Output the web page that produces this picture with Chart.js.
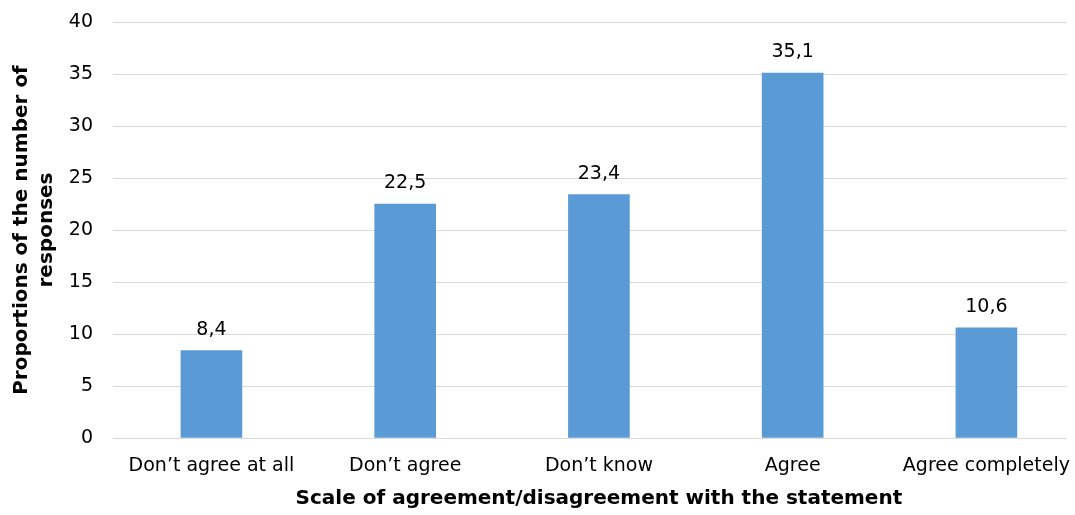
<!DOCTYPE html>
<html>
<head>
<meta charset="utf-8">
<script src="https://cdn.jsdelivr.net/npm/chart.js@4/dist/chart.umd.min.js"></script>
<style>
  html, body { margin: 0; padding: 0; background: #ffffff; overflow: hidden; }
  canvas { display: block; }
</style>
</head>
<body>
<canvas id="chart" width="1075" height="515"></canvas>
<script>
// Response categories along the agreement scale
const categories = ["Don\u2019t agree at all", "Don\u2019t agree", "Don\u2019t know", "Agree", "Agree completely"];
// Share of responses per category, %
const shares = [8.4, 22.5, 23.4, 35.1, 10.6];
// Value axis ticks
const yTicks = [0, 5, 10, 15, 20, 25, 30, 35, 40];
// Axis titles
const xTitle = 'Scale of agreement/disagreement with the statement';
const yTitle = ['Proportions of the number of', 'responses'];

const FONT = "'DejaVu Sans', sans-serif";
const fmt = v => v.toFixed(1).replace('.', ',');

// Writes each bar's value above it
const valueLabels = {
  id: 'valueLabels',
  afterDatasetsDraw(chart) {
    const ctx = chart.ctx;
    const meta = chart.getDatasetMeta(0);
    ctx.save();
    ctx.font = "19px " + FONT;
    ctx.fillStyle = '#000000';
    ctx.textAlign = 'center';
    ctx.textBaseline = 'alphabetic';
    meta.data.forEach((bar, i) => {
      ctx.fillText(fmt(shares[i]), bar.x, bar.y - 16);
    });
    ctx.restore();
  }
};

// Category-axis title, centred under the full span of the categories
const categoryTitle = {
  id: 'categoryTitle',
  afterDraw(chart) {
    const xs = chart.scales.x;
    const cx = (xs.getPixelForValue(-0.5) + xs.getPixelForValue(categories.length - 0.5)) / 2;
    const ctx = chart.ctx;
    ctx.save();
    ctx.font = "bold 20px " + FONT;
    ctx.fillStyle = '#000000';
    ctx.textAlign = 'center';
    ctx.textBaseline = 'middle';
    ctx.fillText(xTitle, cx, xs.bottom - 12);
    ctx.restore();
  }
};

new Chart(document.getElementById('chart'), {
  type: 'bar',
  data: {
    datasets: [{
      data: shares.map((v, i) => ({ x: i, y: v })),
      backgroundColor: '#5B9BD5',
      borderWidth: 0,
      barThickness: 61
    }]
  },
  options: {
    responsive: false,
    animation: false,
    events: [],
    layout: { padding: { top: 22, right: 8, bottom: 4, left: 9 } },
    plugins: { legend: { display: false }, tooltip: { enabled: false } },
    scales: {
      x: {
        type: 'linear',
        offset: false,
        min: -0.508,
        max: 4.416,
        afterBuildTicks(scale) { scale.ticks = categories.map((_, i) => ({ value: i })); },
        afterFit(scale) {
          scale.height = 73;
          scale.paddingLeft = 0;
          scale.paddingRight = 0;
        },
        ticks: {
          callback: v => categories[v],
          autoSkip: false,
          maxRotation: 0,
          color: '#000000',
          font: { family: FONT, size: 19 },
          padding: 9
        },
        grid: { display: false },
        border: { display: false },
        title: { display: false }
      },
      y: {
        min: 0,
        max: 40,
        afterBuildTicks(scale) { scale.ticks = yTicks.map(v => ({ value: v })); },
        afterFit(scale) {
          scale.width = 104;
          scale.paddingTop = 0;
          scale.paddingBottom = 0;
        },
        ticks: {
          color: '#000000',
          font: { family: FONT, size: 19 },
          padding: 20
        },
        grid: { color: '#d9d9d9', lineWidth: 1, drawTicks: false },
        border: { display: false },
        title: {
          display: true,
          text: yTitle,
          color: '#000000',
          font: { family: FONT, size: 20, weight: 'bold', lineHeight: 1.25 },
          padding: { top: 0, bottom: 0 }
        }
      }
    }
  },
  plugins: [valueLabels, categoryTitle]
});
</script>
</body>
</html>
